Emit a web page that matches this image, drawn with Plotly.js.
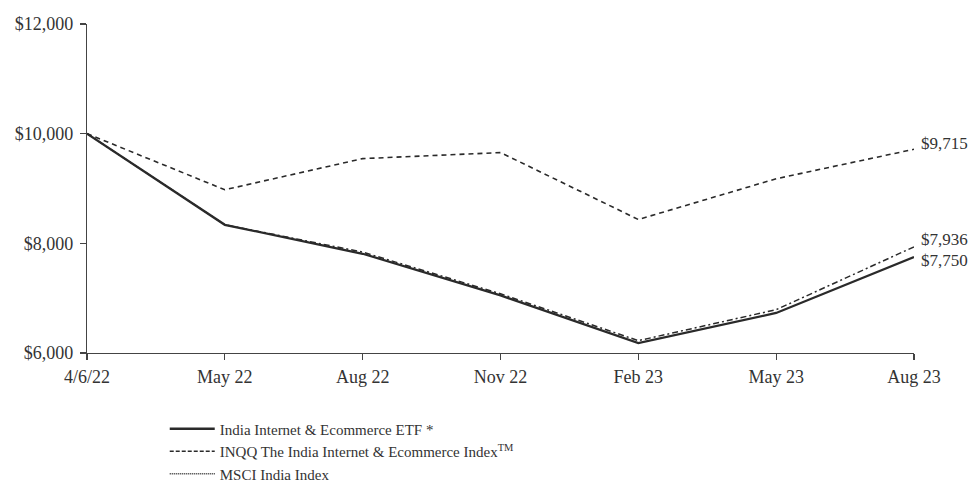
<!DOCTYPE html>
<html>
<head>
<meta charset="utf-8">
<script src="https://cdn.plot.ly/plotly-3.0.1.min.js"></script>
<style>html,body{margin:0;padding:0;background:#fff;}#chart{width:971px;height:487px;}</style>
</head>
<body>
<div id="chart"></div>
<script>
const categories = ["4/6/22", "May 22", "Aug 22", "Nov 22", "Feb 23", "May 23", "Aug 23"];
const etfValues = [10000, 8338, 7810, 7050, 6180, 6730, 7750];
const inqqValues = [10000, 8340, 7840, 7080, 6225, 6790, 7936];
const msciValues = [10000, 8977, 9545, 9655, 8435, 9178, 9715];
const seriesNames = ["India Internet & Ecommerce ETF *", "INQQ The India Internet & Ecommerce Index<sup>TM</sup>", "MSCI India Index"];
const yTicks = [6000, 8000, 10000, 12000];

const ink = "#2a2a2a";
const fontFam = "'Liberation Serif', 'Times New Roman', serif";

const traces = [
  {x: categories, y: msciValues, type: "scatter", mode: "lines", showlegend: false,
   line: {color: ink, width: 1.6, dash: "5px,4px"}},
  {x: categories, y: inqqValues, type: "scatter", mode: "lines", showlegend: false,
   line: {color: ink, width: 1.5, dash: "6px,3px,2px,3px"}},
  {x: categories, y: etfValues, type: "scatter", mode: "lines", showlegend: false,
   line: {color: ink, width: 2.3}},
  // legend entries (styles as shown in the reference legend)
  {x: [null], y: [null], type: "scatter", mode: "lines", name: seriesNames[0],
   line: {color: ink, width: 2.3}},
  {x: [null], y: [null], type: "scatter", mode: "lines", name: seriesNames[1],
   line: {color: ink, width: 1.3, dash: "4px,2px"}},
  {x: [null], y: [null], type: "scatter", mode: "lines", name: seriesNames[2],
   line: {color: ink, width: 1.3, dash: "1px,1px"}}
];

const last = categories.length - 1;
const fmt = v => "$" + v.toLocaleString("en-US");
const endLabels = [
  {v: msciValues[last], shift: 6},
  {v: inqqValues[last], shift: 7},
  {v: etfValues[last], shift: -3}
];

const layout = {
  width: 971, height: 487,
  margin: {l: 87, r: 57, t: 24, b: 134, autoexpand: false},
  paper_bgcolor: "#fff", plot_bgcolor: "#fff",
  font: {family: fontFam, size: 18, color: "#333"},
  showlegend: true,
  legend: {xref: "paper", yref: "container", x: 0.094, xanchor: "left", y: 0.153, yanchor: "top",
           font: {family: fontFam, size: 15, color: "#333"},
           bgcolor: "rgba(0,0,0,0)", itemwidth: 45, tracegroupgap: 0},
  xaxis: {type: "category", categoryorder: "array", categoryarray: categories,
          range: [0, last], showgrid: false, zeroline: false, automargin: false,
          showline: true, linecolor: "#444", linewidth: 1.2,
          ticks: "outside", ticklen: 6, tickcolor: "#444", tickwidth: 1.2,
          ticklabelstandoff: 1, tickfont: {size: 18}},
  yaxis: {range: [6000, 12000], tickvals: yTicks, tickformat: "$,",
          showgrid: false, zeroline: false, automargin: false,
          showline: true, linecolor: "#444", linewidth: 1.2,
          ticks: "outside", ticklen: 6, tickcolor: "#444", tickwidth: 1.2,
          ticklabelstandoff: 3, tickfont: {size: 18}},
  xaxis2: {overlaying: "x", anchor: "y", range: [0, last], tickvals: [0,1,2,3,4,5,6],
           showticklabels: false, showgrid: false, zeroline: false, showline: false,
           ticks: "inside", ticklen: 6, tickcolor: "#444", tickwidth: 1.2, side: "bottom"},
  yaxis2: {overlaying: "y", anchor: "x", range: [6000, 12000], tickvals: yTicks,
           showticklabels: false, showgrid: false, zeroline: false, showline: false,
           ticks: "inside", ticklen: 6, tickcolor: "#444", tickwidth: 1.2, side: "left"},
  annotations: endLabels.map(e => ({
    x: categories[last], y: e.v, xref: "x", yref: "y", text: fmt(e.v),
    showarrow: false, xanchor: "left", yanchor: "middle", xshift: 5, yshift: e.shift,
    font: {family: fontFam, size: 17, color: "#333"}
  }))
};

Plotly.newPlot("chart", traces, layout, {staticPlot: true, displayModeBar: false});
</script>
</body>
</html>
